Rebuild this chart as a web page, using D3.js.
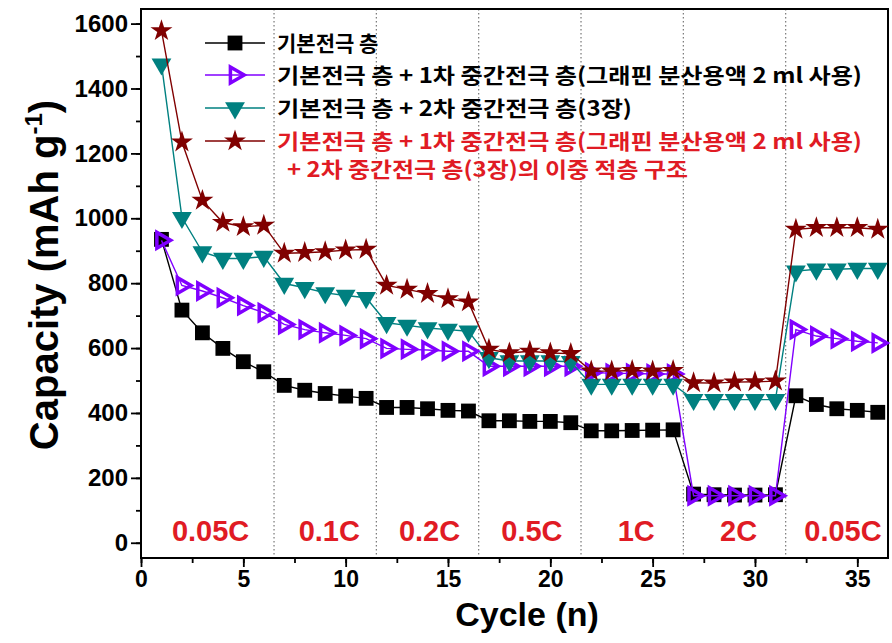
<!DOCTYPE html>
<html>
<head>
<meta charset="utf-8">
<script src="https://cdn.jsdelivr.net/npm/d3@7"></script>
<style>
  body { margin: 0; background: #fff; }
  text { font-family: "Liberation Sans", Arial, sans-serif; font-weight: bold; }
  .kr { font-family: "Noto Sans CJK KR", sans-serif; font-weight: bold; }
</style>
</head>
<body>
<div id="chart"></div>
<script>
// data
let cycles = d3.range(1, 37);
let basic = [935, 717, 647, 599, 558, 527, 485, 470, 460, 452, 445, 417, 417, 413, 408, 406, 376, 376, 374, 374, 370, 345, 345, 346, 347, 348, 150, 148, 147, 147, 148, 453, 426, 413, 408, 402];
let first = [932, 793, 776, 755, 731, 709, 673, 657, 647, 639, 629, 599, 596, 594, 590, 590, 544, 544, 544, 544, 544, 525, 522, 522, 520, 520, 145, 145, 145, 145, 145, 657, 637, 629, 621, 616];
let second = [1475, 1002, 896, 876, 876, 882, 799, 786, 770, 762, 755, 678, 670, 662, 657, 652, 570, 560, 560, 560, 558, 488, 488, 488, 488, 488, 441, 441, 441, 441, 441, 837, 843, 843, 845, 845];
let both = [1578, 1235, 1055, 987, 974, 978, 892, 894, 897, 902, 904, 793, 781, 768, 752, 742, 596, 585, 590, 585, 583, 529, 529, 531, 529, 531, 493, 492, 495, 496, 498, 966, 971, 971, 971, 966];

let rateLabels = ["0.05C", "0.1C", "0.2C", "0.5C", "1C", "2C", "0.05C"];
let rateCenters = [3.4, 9.2, 14.1, 19.1, 24.2, 29.2, 34.3];
let rateBreaks = [6.5, 11.5, 16.5, 21.5, 26.5, 31.5];

let legendLabels = [
    "기본전극 층",
    "기본전극 층 + 1차 중간전극 층(그래핀 분산용액 2 ml 사용)",
    "기본전극 층 + 2차 중간전극 층(3장)",
    "기본전극 층 + 1차 중간전극 층(그래핀 분산용액 2 ml 사용)"
];
let legendExtra = "+ 2차 중간전극 층(3장)의 이중 적층 구조";

let yTicks = [0, 200, 400, 600, 800, 1000, 1200, 1400, 1600];
let xTicks = [0, 5, 10, 15, 20, 25, 30, 35];

// svg size and margins
let width = 892;
let height = 643;
let margin = { top: 9, right: 4, bottom: 85, left: 141 };
let chartWidth = width - margin.left - margin.right;
let chartHeight = height - margin.top - margin.bottom;

let svg = d3.select("#chart").append("svg").attr("width", width).attr("height", height);
let chartGroup = svg.append("g").attr("transform", `translate(${margin.left}, ${margin.top})`);

let xScale = d3.scaleLinear().domain([0, 36.5]).range([0, chartWidth]);
let yScale = d3.scaleLinear().domain([-47, 1645]).range([chartHeight, 0]);

// dotted separators between c-rates
chartGroup.selectAll(".sep").data(rateBreaks).enter().append("line")
    .attr("class", "sep")
    .attr("x1", d => xScale(d)).attr("x2", d => xScale(d))
    .attr("y1", 0).attr("y2", chartHeight)
    .attr("stroke", "#777").attr("stroke-width", 1.2).attr("stroke-dasharray", "1.5,2.5");

// c-rate labels
chartGroup.selectAll(".rate").data(rateLabels).enter().append("text")
    .attr("class", "rate")
    .attr("x", (d, i) => xScale(rateCenters[i]))
    .attr("y", yScale(4))
    .attr("text-anchor", "middle")
    .attr("font-size", "29px")
    .attr("fill", "#e01b24")
    .text(d => d);

// axes with minor ticks
let xAxis = d3.axisBottom(xScale).tickValues(xTicks).tickSize(9).tickPadding(4);
let xMinor = d3.axisBottom(xScale).tickValues(d3.range(0, 36.5, 2.5)).tickSize(5).tickFormat("");
let yAxis = d3.axisLeft(yScale).tickValues(yTicks).tickSize(10).tickPadding(3).tickFormat(d3.format("d"));
let yMinor = d3.axisLeft(yScale).tickValues(d3.range(0, 1601, 100)).tickSize(5).tickFormat("");

let gx = chartGroup.append("g").attr("transform", `translate(0, ${chartHeight})`).call(xAxis);
chartGroup.append("g").attr("transform", `translate(0, ${chartHeight})`).call(xMinor);
let gy = chartGroup.append("g").call(yAxis);
chartGroup.append("g").call(yMinor);
chartGroup.selectAll(".domain").remove();
chartGroup.selectAll(".tick line").attr("stroke", "#000").attr("stroke-width", 1.8);
gx.selectAll("text").attr("font-size", "23px").attr("font-family", "Liberation Sans").attr("font-weight", "bold").attr("fill", "#000");
gy.selectAll("text").attr("font-size", "24px").attr("font-family", "Liberation Sans").attr("font-weight", "bold").attr("fill", "#000");

// frame
chartGroup.append("rect").attr("width", chartWidth).attr("height", chartHeight)
    .attr("fill", "none").attr("stroke", "#000").attr("stroke-width", 2);

// series
let series = [
    { values: basic, color: "#000", shape: d3.symbolSquare, size: 220, rotate: 0, fill: "#000", strokeW: 0 },
    { values: first, color: "#8000ff", shape: d3.symbolTriangle, size: 110, rotate: 90, fill: "none", strokeW: 3.5 },
    { values: second, color: "#008080", shape: d3.symbolTriangle, size: 170, rotate: 180, fill: "#008080", strokeW: 0 },
    { values: both, color: "#800000", shape: d3.symbolStar, size: 150, rotate: 0, fill: "#800000", strokeW: 0 }
];

let line = d3.line().x((d, i) => xScale(cycles[i])).y(d => yScale(d));

series.forEach(s => {
    chartGroup.append("path").datum(s.values)
        .attr("d", line).attr("fill", "none")
        .attr("stroke", s.color).attr("stroke-width", 1.4);
    chartGroup.selectAll(null).data(s.values).enter().append("path")
        .attr("d", d3.symbol().type(s.shape).size(s.size))
        .attr("transform", (d, i) => `translate(${xScale(cycles[i])}, ${yScale(d)}) rotate(${s.rotate})`)
        .attr("fill", s.fill)
        .attr("stroke", s.strokeW ? s.color : "none")
        .attr("stroke-width", s.strokeW)
        .attr("stroke-linejoin", "miter");
});

// legend
let legendY = [43, 75, 108, 141];
let legendLen = [null, 585, 355, 585];
let legend = svg.append("g");
series.forEach((s, i) => {
    let g = legend.append("g").attr("transform", `translate(0, ${legendY[i]})`);
    g.append("line").attr("x1", 205).attr("x2", 265).attr("stroke", s.color).attr("stroke-width", 1.4);
    g.append("path").attr("d", d3.symbol().type(s.shape).size(s.size))
        .attr("transform", `translate(235, 0) rotate(${s.rotate})`)
        .attr("fill", s.fill)
        .attr("stroke", s.strokeW ? s.color : "none")
        .attr("stroke-width", s.strokeW);
    let t = g.append("text").attr("class", "kr").attr("x", 277).attr("y", 8)
        .attr("font-size", "21px")
        .attr("fill", i == 3 ? "#e01b24" : "#000")
        .text(legendLabels[i]);
    if (legendLen[i]) t.attr("textLength", legendLen[i]).attr("lengthAdjust", "spacingAndGlyphs");
});
legend.append("text").attr("class", "kr").attr("x", 287).attr("y", 177)
    .attr("font-size", "21px").attr("fill", "#e01b24")
    .attr("textLength", 401).attr("lengthAdjust", "spacingAndGlyphs")
    .text(legendExtra);

// axis titles
svg.append("text").attr("x", 527).attr("y", 626).attr("text-anchor", "middle")
    .attr("font-size", "34px").text("Cycle (n)");

let yTitle = svg.append("text").attr("transform", "translate(58, 275) rotate(-90)")
    .attr("text-anchor", "middle").attr("font-size", "40px");
yTitle.append("tspan").text("Capacity (mAh g");
yTitle.append("tspan").attr("font-size", "24px").attr("dy", -16).text("-1");
yTitle.append("tspan").attr("dy", 16).text(")");
</script>
</body>
</html>
